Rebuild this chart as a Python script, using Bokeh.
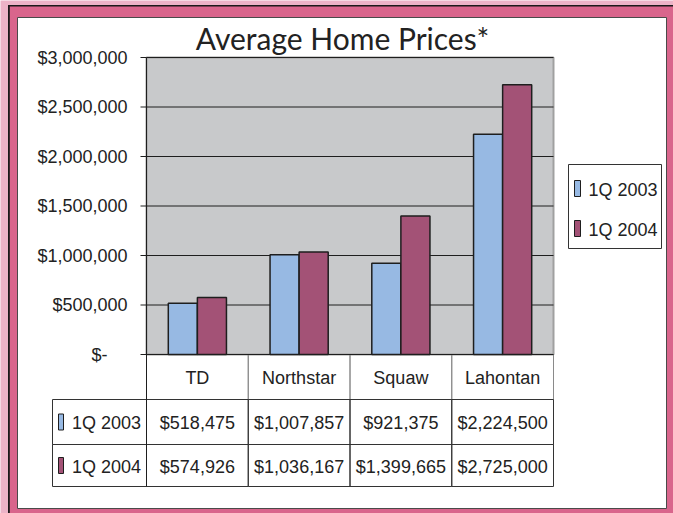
from bokeh.plotting import figure
from bokeh.models import (FactorRange, Range1d, ColumnDataSource, LinearScale)
from bokeh.core.properties import value
from bokeh.transform import dodge
from bokeh.embed import file_html
from bokeh.resources import INLINE

# ---------------- data ----------------
categories = ["TD", "Northstar", "Squaw", "Lahontan"]
series_names = ["1Q 2003", "1Q 2004"]
prices_2003 = [518475, 1007857, 921375, 2224500]
prices_2004 = [574926, 1036167, 1399665, 2725000]
y_ticks = [0, 500000, 1000000, 1500000, 2000000, 2500000, 3000000]
y_tick_labels = ["$-\u00a0\u00a0\u00a0\u00a0", "$500,000", "$1,000,000", "$1,500,000",
                 "$2,000,000", "$2,500,000", "$3,000,000"]
title_text = "Average Home Prices*"

# ---------------- layout constants (pixels from top-left) ----------------
W, H = 673, 513
FL, FR, FT, FB = 146, 553, 57, 354
FONT = value("Liberation Sans")
FS = "18px"
TXT = "#222222"
BLUE = "#97B9E3"
MAROON = "#A35276"
EDGE = "#1e1e1e"
PLOT_BG = "#C8C9CB"


def Y(py):
    return H - py


p = figure(width=W, height=H, x_range=Range1d(0, W), y_range=Range1d(0, H),
           output_backend="svg", toolbar_location=None,
           x_axis_location=None, y_axis_location=None, min_border=0,
           border_fill_color="#ECB3C7", background_fill_color="#ECB3C7",
           outline_line_color=None)
for g in p.grid:
    g.visible = False

# ---- page frame ----
p.quad(left=[7.5], right=[700], top=[Y(4.5)], bottom=[Y(540)], fill_color="#1a1a1a", line_color=None)
p.quad(left=[9.3], right=[700], top=[Y(6)], bottom=[Y(540)], fill_color="#D9658C", line_color=None)
p.quad(left=[17], right=[666], top=[Y(17)], bottom=[Y(508)], fill_color="white",
       line_color="#4a4a4a", line_width=1)

# ---- value axis mapping (x in pixels, y in dollars) ----
val = p.subplot(x_source=Range1d(0, W), y_source=Range1d(y_ticks[0], y_ticks[-1]),
                x_scale=LinearScale(), y_scale=LinearScale(),
                x_target=Range1d(0, W), y_target=Range1d(Y(FB), Y(FT)))
val.quad(left=[FL], right=[FR], bottom=[y_ticks[0]], top=[y_ticks[-1]],
         fill_color=PLOT_BG, line_color="#A0A0A0", line_width=2)
val.segment(x0=FL, x1=FR, y0=y_ticks, y1=y_ticks, line_color=EDGE, line_width=1)
val.segment(x0=FL - 6, x1=FL, y0=y_ticks, y1=y_ticks, line_color=EDGE, line_width=1)
val.text(x=127, y=y_ticks, text=y_tick_labels, text_font=FONT, text_font_size=FS,
         text_color=TXT, text_align="right", text_baseline="middle")

# ---- bars (category positions via FactorRange, dollar y) ----
xcat = FactorRange(*categories, range_padding=0)
bars = p.subplot(x_source=Range1d(0, len(categories)), y_source=Range1d(y_ticks[0], y_ticks[-1]),
                 x_scale=LinearScale(), y_scale=LinearScale(),
                 x_target=Range1d(FL, FR), y_target=Range1d(Y(FB), Y(FT)))
src = ColumnDataSource(dict(cat=categories, v2003=prices_2003, v2004=prices_2004))
bars.vbar(x=dodge("cat", -0.1429, range=xcat), top="v2003", width=0.2857,
          source=src, fill_color=BLUE, line_color=EDGE, line_width=1.5)
bars.vbar(x=dodge("cat", 0.1429, range=xcat), top="v2004", width=0.2857,
          source=src, fill_color=MAROON, line_color=EDGE, line_width=1.5)

# ---- title ----
p.text(x=[342], y=[Y(37)], text=[title_text], text_font=value("Lato"), text_font_size="30px",
       text_color=TXT, text_align="center", text_baseline="middle")

# ---- data table (category columns, pixel rows) ----
tab = p.subplot(x_source=Range1d(0, len(categories)), y_source=Range1d(0, H),
                x_scale=LinearScale(), y_scale=LinearScale(),
                x_target=Range1d(FL, FR), y_target=Range1d(0, H))
rows = [(FB, 399), (399, 444), (444, 486)]
TL = 52
row_texts = [categories] + [[f"${v:,}" for v in vals] for vals in (prices_2003, prices_2004)]
row_lines = ["#8a8a8a", "#333333", "#333333"]
for (y0, y1), texts, lc in zip(rows, row_texts, row_lines):
    ym = (y0 + y1) / 2
    s = ColumnDataSource(dict(cat=categories, txt=texts, yc=[Y(ym)] * len(categories),
                              yt=[Y(ym + 1)] * len(categories)))
    tab.rect(x=dodge("cat", 0, range=xcat), y="yc", width=1, height=y1 - y0, source=s,
             fill_color=None, line_color=lc, line_width=1)
    tab.text(x=dodge("cat", 0, range=xcat), y="yt", text="txt", source=s, text_font=FONT,
             text_font_size=FS, text_color=TXT, text_align="center", text_baseline="middle")

series_cols = [BLUE, MAROON]
for r, (name, col) in enumerate(zip(series_names, series_cols)):
    y0, y1 = rows[r + 1]
    ym = (y0 + y1) / 2
    p.quad(left=[TL], right=[FL], top=[Y(y0)], bottom=[Y(y1)], fill_color=None,
           line_color="#333333", line_width=1)
    p.quad(left=[58], right=[63], top=[Y(ym - 8)], bottom=[Y(ym + 8)], fill_color=col,
           line_color=EDGE, line_width=1)
    p.text(x=[106], y=[Y(ym + 1)], text=[name], text_font=FONT, text_font_size=FS,
           text_color=TXT, text_align="center", text_baseline="middle")

# axis line (continues down the table) and base line
p.segment(x0=[FL], x1=[FL], y0=[Y(FT)], y1=[Y(486)], line_color=EDGE, line_width=1)
val.segment(x0=[FL], x1=[FR], y0=[y_ticks[0]], y1=[y_ticks[0]], line_color=EDGE, line_width=1)

# ---- legend ----
p.quad(left=[568], right=[661], top=[Y(164)], bottom=[Y(248)], fill_color="white",
       line_color="#333333", line_width=1)
leg_y = [188, 228]
for name, col, ly in zip(series_names, series_cols, leg_y):
    p.quad(left=[574], right=[580], top=[Y(ly - 8)], bottom=[Y(ly + 8)], fill_color=col,
           line_color=EDGE, line_width=1)
    p.text(x=[588], y=[Y(ly + 1)], text=[name], text_font=FONT, text_font_size=FS,
           text_color=TXT, text_align="left", text_baseline="middle")

open("out.html", "w").write(file_html(p, INLINE))
